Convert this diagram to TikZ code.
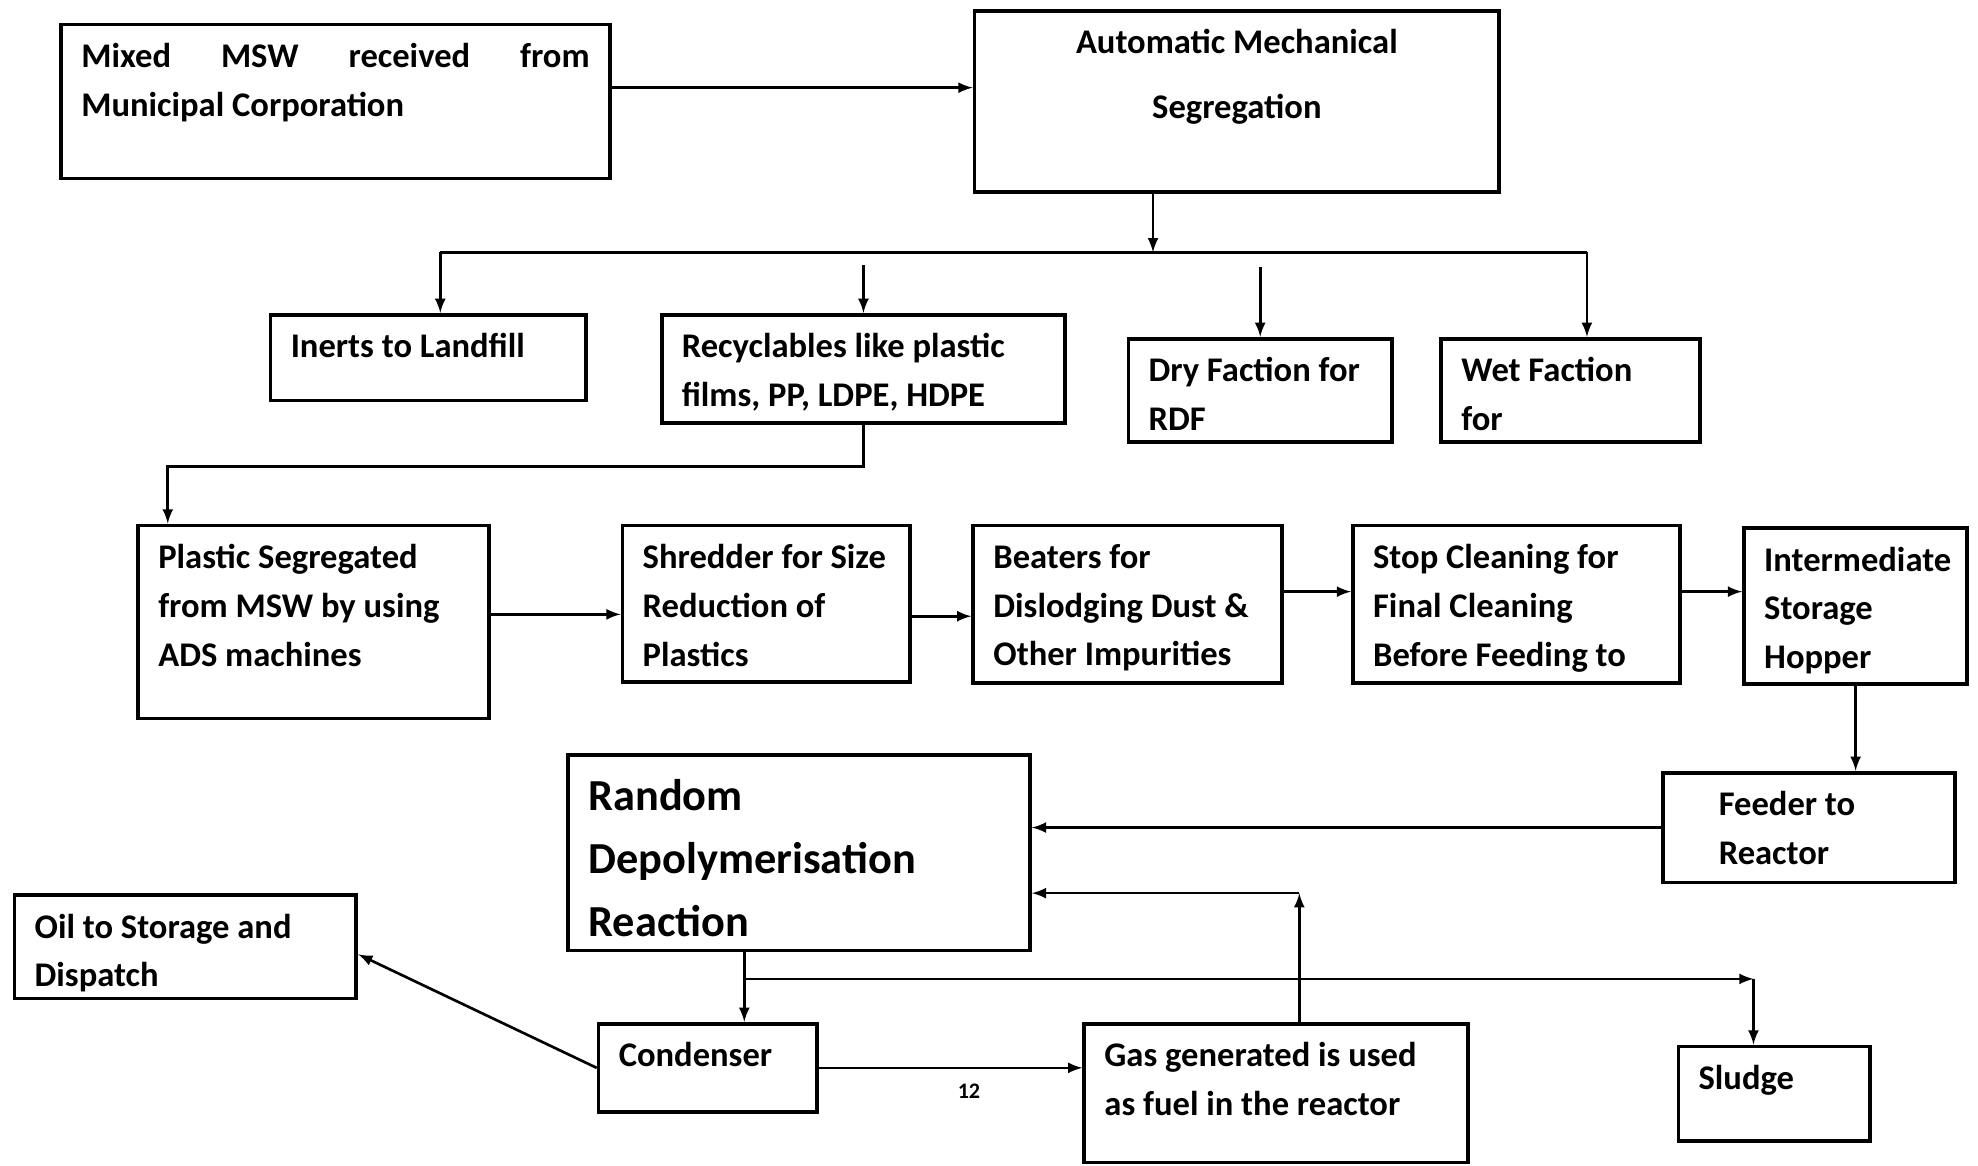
\documentclass[tikz,border=0pt]{standalone}
\usepackage{fontspec}
\setmainfont{Carlito}
\newcommand{\boxtxt}[3]{\parbox[c][\dimexpr0.02cm*#2-0.6cm\relax][t]{\dimexpr0.02cm*#1-0.64cm\relax}{\raggedright #3}}

\begin{document}
\begin{tikzpicture}[
            x=0.02cm, y=-0.02cm,
            block/.style={draw, line width=1.7pt, anchor=north west, inner xsep=0.32cm, inner ysep=0.3cm,
                    font=\bfseries\fontsize{15.6}{22}\selectfont},
            arr/.style={->, >=latex, line width=1.2pt},
            wire/.style={line width=1.2pt}
        ]
        \useasboundingbox (0,0) rectangle (1568,924);

        % first rows
        \node[block] (mixed) at (47,18) {\boxtxt{435}{122}{Mixed\hfill MSW\hfill received\hfill from\\Municipal Corporation}};
        \node[block] (ams) at (771,7) {\boxtxt{416}{144}{\centering\fontsize{15.6}{29}\selectfont Automatic Mechanical\\Segregation}};
        \node[block] (inerts) at (213,248) {\boxtxt{250}{68}{Inerts to Landfill}};
        \node[block] (recyc) at (523,248) {\boxtxt{320}{86}{Recyclables like plastic\\films, PP, LDPE, HDPE}};
        \node[block] (dry) at (893,267) {\boxtxt{209}{82}{Dry Faction for\\RDF}};
        \node[block] (wet) at (1141,267) {\boxtxt{205}{82}{Wet Faction\\for}};

        % plastic line
        \node[block] (plastic) at (108,415) {\boxtxt{278}{153}{Plastic Segregated\\from MSW by using\\ADS machines}};
        \node[block] (shredder) at (492,415) {\boxtxt{228}{124}{\mbox{Shredder for Size}\\Reduction of\\Plastics}};
        \node[block] (beaters) at (770,415) {\boxtxt{245}{125}{Beaters for\\Dislodging Dust \&\\Other Impurities}};
        \node[block] (stopcl) at (1071,415) {\boxtxt{259}{125}{Stop Cleaning for\\Final Cleaning\\Before Feeding to}};
        \node[block] (hopper) at (1381,417) {\boxtxt{177}{124}{Intermediate\\Storage\\Hopper}};

        % reactor part
        \node[block] (feeder) at (1317,611) {\boxtxt{231}{87}{\leftskip=0.56cm Feeder to\\Reactor}};
        \node[block] (random) at (449,597) {\boxtxt{366}{155}{\fontsize{20}{28.5}\selectfont\vspace*{0.08cm}Random\\Depolymerisation\\Reaction}};
        \node[block] (oil) at (10,708) {\boxtxt{271}{82}{Oil to Storage and\\Dispatch}};
        \node[block] (condenser) at (473,810) {\boxtxt{173}{70}{Condenser}};
        \node[block] (gas) at (858,810) {\boxtxt{304}{110}{Gas generated is used\\as fuel in the reactor}};
        \node[block] (sludge) at (1329,828) {\boxtxt{152}{75}{Sludge}};

        \coordinate (split) at (914,200);
        \coordinate (brL) at (349,200);
        \coordinate (brR) at (1258,200);
        \coordinate (turn) at (133,370);
        \coordinate (gasup) at (1030,708);
        \coordinate (tap) at (590,776);
        \coordinate (sl) at (1390,776);

        \draw[arr] ([yshift=0.22cm]mixed.east) -- ([yshift=0.22cm]mixed.east -| ams.west);
        \draw[arr] (ams.south -| split) -- (split);
        \draw[wire] (brL) -- (brR);
        \draw[arr] (brL) -- (brL |- inerts.north);
        \draw[arr] (brR) -- (brR |- wet.north);
        \draw[arr] ([yshift=0.76cm]recyc.north) -- (recyc.north);
        \draw[arr] ([yshift=1.1cm]dry.north) -- (dry.north);
        \draw[arr] (recyc.south) |- (turn) -- (turn |- plastic.north);

        \draw[arr] ([yshift=0.12cm]plastic.east) -- ([yshift=0.12cm]plastic.east -| shredder.west);
        \draw[arr] ([yshift=-0.2cm]shredder.east) -- ([yshift=-0.2cm]shredder.east -| beaters.west);
        \draw[arr] ([yshift=0.2cm]beaters.east) -- ([yshift=0.2cm]beaters.east -| stopcl.west);
        \draw[arr] ([yshift=0.2cm]stopcl.east) -- ([yshift=0.2cm]stopcl.east -| hopper.west);
        \draw[arr] (hopper.south) -- (hopper.south |- feeder.north);

        \draw[arr] (feeder.west) -- (feeder.west -| random.east);
        \draw[arr] (gas.north -| gasup) -- (gasup);
        \draw[arr] (gasup) -- (gasup -| random.east);
        \draw[arr] (random.south -| tap) -- (condenser.north -| tap);
        \draw[arr] (tap) -- (sl);
        \draw[arr] (sl) -- (sl |- sludge.north);
        \draw[arr] (condenser.west) -- ([yshift=-0.12cm]oil.east);
        \draw[arr] (condenser.east) -- (condenser.east -| gas.west)
            node[pos=0.57, below=0.12cm, font=\bfseries\fontsize{10}{11}\selectfont] (pg) {12};

    \end{tikzpicture}
\end{document}
